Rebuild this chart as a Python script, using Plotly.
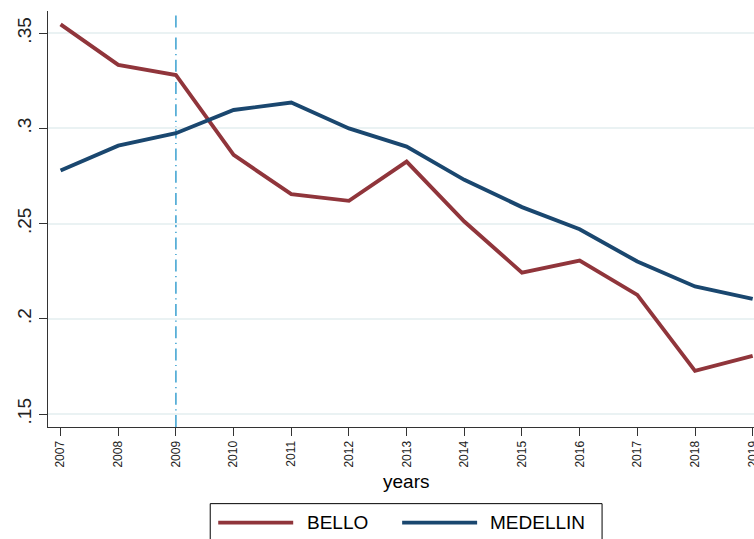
import plotly.graph_objects as go

years = list(range(2007, 2020))
bello = [0.3547, 0.3334, 0.3281, 0.2861, 0.2655, 0.2620, 0.2826,
         0.2511, 0.2243, 0.2306, 0.2126, 0.1727, 0.1806]
medellin = [0.2779, 0.2910, 0.2975, 0.3097, 0.3136, 0.3000, 0.2905,
            0.2730, 0.2587, 0.2471, 0.2301, 0.2170, 0.2105]
ytick_vals = [0.15, 0.20, 0.25, 0.30, 0.35]
ytick_text = [".15", ".2", ".25", ".3", ".35"]
event_year = 2009
series_names = ["BELLO", "MEDELLIN"]
series_colors = ["#90353B", "#1A476F"]

FONT = "Liberation Sans, Arial, sans-serif"

W, H = 754, 539
L, R, T, B = 47.7, 0, 11, 111.7
pw, ph = W - L - R, H - T - B


def px_x(px):
    return (px - L) / pw


def px_y(py):
    return (H - B - py) / ph


fig = go.Figure()
for name, vals, col in zip(series_names, [bello, medellin], series_colors):
    fig.add_trace(go.Scatter(x=years, y=vals, mode="lines", name=name,
                             line=dict(color=col, width=3.9),
                             showlegend=False))

fig.add_vline(x=event_year, line=dict(color="#2C9ACD", width=1.4,
                                      dash="12px,4.5px,1.2px,4.5px"),
              layer="below")

# Legend box (manual, Stata-style)
shapes = [
    dict(type="rect", xref="paper", yref="paper",
         x0=px_x(210), x1=px_x(602), y0=px_y(550), y1=px_y(504),
         line=dict(color="black", width=1), fillcolor="white", layer="above"),
    dict(type="line", xref="paper", yref="paper",
         x0=px_x(218), x1=px_x(293), y0=px_y(523), y1=px_y(523),
         line=dict(color=series_colors[0], width=3.9)),
    dict(type="line", xref="paper", yref="paper",
         x0=px_x(402), x1=px_x(477), y0=px_y(523), y1=px_y(523),
         line=dict(color=series_colors[1], width=3.9)),
]
for s in shapes:
    fig.add_shape(**s)

annotations = [
    dict(text="years", xref="paper", yref="paper", x=px_x(406), y=px_y(482),
         xanchor="center", yanchor="middle", showarrow=False,
         font=dict(family=FONT, size=19, color="black")),
    dict(text=series_names[0], xref="paper", yref="paper", x=px_x(305), y=px_y(523),
         xanchor="left", yanchor="middle", showarrow=False,
         font=dict(family=FONT, size=19, color="black")),
    dict(text=series_names[1], xref="paper", yref="paper", x=px_x(488), y=px_y(523),
         xanchor="left", yanchor="middle", showarrow=False,
         font=dict(family=FONT, size=19, color="black")),
]
for a in annotations:
    fig.add_annotation(**a)

fig.update_layout(
    width=W, height=H,
    margin=dict(l=L, r=R, t=T, b=B, pad=0, autoexpand=False),
    paper_bgcolor="white", plot_bgcolor="white",
    font=dict(family=FONT, color="black"),
    showlegend=False,
)
fig.update_xaxes(
    range=[2006.782, 2019.023],
    tickmode="array", tickvals=years, ticktext=[str(y) for y in years],
    tickangle=-90, tickfont=dict(size=12, family=FONT, color="#222"),
    ticks="outside", ticklen=8, tickwidth=1, tickcolor="#333",
    ticklabeloverflow="allow", automargin=False,
    showline=True, linecolor="#333", linewidth=1.2,
    showgrid=False, zeroline=False,
)
fig.update_yaxes(
    range=[0.1432, 0.3617],
    tickmode="array", tickvals=ytick_vals, ticktext=ytick_text,
    tickangle=-90, tickfont=dict(size=19, family=FONT, color="#222"),
    ticks="outside", ticklen=8, tickwidth=1, tickcolor="#333",
    automargin=False,
    showline=True, linecolor="#333", linewidth=1.2,
    showgrid=True, gridcolor="#EAF2F3", gridwidth=1.5,
    zeroline=False,
)

fig.write_html("out.html")
